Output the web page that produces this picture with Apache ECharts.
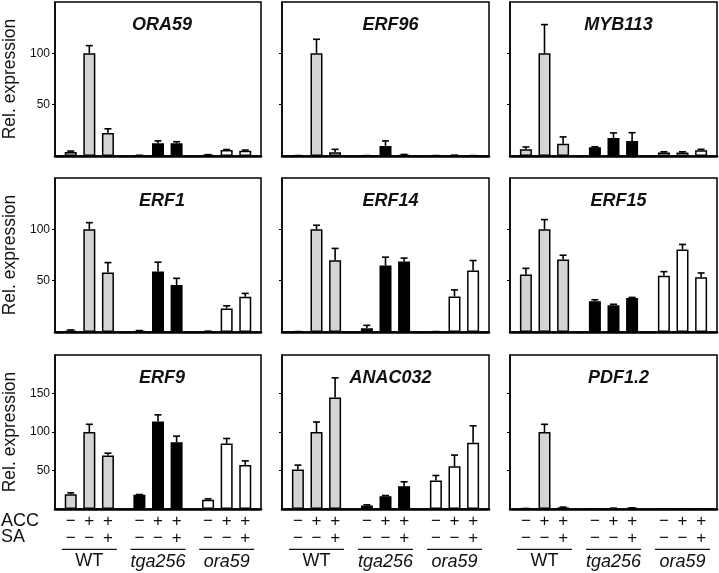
<!DOCTYPE html>
<html>
<head>
<meta charset="utf-8">
<script src="https://cdn.jsdelivr.net/npm/echarts@6/dist/echarts.min.js"></script>
<style>html,body{margin:0;padding:0;background:#fff}#c{width:719px;height:573px}</style>
</head>
<body>
<div id="c"></div>
<script>
// ---- data ----
var genes = ['ORA59', 'ERF96', 'MYB113', 'ERF1', 'ERF14', 'ERF15', 'ERF9', 'ANAC032', 'PDF1.2'];
var groups = ['WT', 'tga256', 'ora59'];
var accSigns = ['\u2212', '+', '+'];
var saSigns = ['\u2212', '\u2212', '+'];
var rowMax = [150, 150, 200];
var rowTicks = [[50, 100], [50, 100], [50, 100, 150]];
// means per gene: WT(-,-), WT(+,-), WT(+,+), tga256 x3, ora59 x3
var meanORA59   = [4, 100, 22.5, 0.5, 12.4, 12.4, 1, 5.8, 5];
var errORA59    = [0.8, 7.5, 4, 0.2, 2.3, 1.5, 0.3, 0.5, 0.8];
var meanERF96   = [0.3, 100, 3.6, 0.3, 9.8, 1, 0.3, 0.6, 0.3];
var errERF96    = [0.1, 13.7, 2.9, 0.1, 4.9, 0.5, 0.1, 0.2, 0.1];
var meanMYB113  = [6.5, 100, 12, 8.5, 17.6, 14.7, 3.3, 3.3, 5.5];
var errMYB113   = [2.3, 28, 6.6, 0.5, 4.9, 8, 0.8, 0.8, 1];
var meanERF1    = [1.3, 100, 58, 1, 59, 45.8, 0.5, 23, 34.3];
var errERF1     = [0.7, 6.5, 9.6, 0.4, 9, 6.5, 0.3, 2.5, 3.3];
var meanERF14   = [0.3, 100, 70, 3.6, 64.7, 68.6, 0.3, 34.6, 60];
var errERF14    = [0.1, 4, 11.4, 2.9, 8.2, 3.4, 0.1, 6.4, 9.6];
var meanERF15   = [55.9, 100, 70.6, 30, 26, 33, 54.9, 80.4, 53.3];
var errERF15    = [6.1, 9.5, 4.2, 1.4, 1, 0.7, 3.9, 4.9, 4.2];
var meanERF9    = [19.3, 100, 69.5, 18.4, 113.6, 86.8, 11.9, 85, 57];
var errERF9     = [1.7, 10, 3, 0.4, 8.7, 7.8, 1.3, 6.6, 5.5];
var meanANAC032 = [51.3, 100, 144.8, 4.5, 16.7, 29.7, 37, 55.6, 86];
var errANAC032  = [5.7, 13, 25.5, 0.9, 0.8, 5.6, 6.5, 14.4, 22];
var meanPDF12   = [0.5, 100, 2, 0.2, 0.8, 1.2, 0, 0, 0];
var errPDF12    = [0.2, 10, 0.5, 0.1, 0.3, 0.3, 0, 0, 0];

var means = [meanORA59, meanERF96, meanMYB113, meanERF1, meanERF14, meanERF15, meanERF9, meanANAC032, meanPDF12];
var errs  = [errORA59, errERF96, errMYB113, errERF1, errERF14, errERF15, errERF9, errANAC032, errPDF12];

// ---- layout / style ----
var FONT = 'Liberation Sans, Arial, sans-serif';
var colLeft = [53, 282, 510], colWidth = [208, 207, 207];
var rowTop = [2, 178, 355], rowHeight = 154;
var groupColors = ['#d4d4d4', '#000000', '#ffffff'];
var BAR_W = 12, BAR_STEP = 18.6;

var chart = echarts.init(document.getElementById('c'), null, {renderer: 'canvas'});
var grids = [], xAxes = [], yAxes = [], titles = [], series = [];

for (var k = 0; k < 9; k++) {
  var r = Math.floor(k / 3), c = k % 3;
  grids.push({left: colLeft[c], top: rowTop[r], width: colWidth[c], height: rowHeight,
    show: true, borderColor: '#000', borderWidth: 1.5, backgroundColor: 'transparent'});
  xAxes.push({type: 'category', gridIndex: k, data: groups,
    axisLine: {lineStyle: {color: '#000', width: 2.5}}, axisTick: {show: false}, axisLabel: {show: false}});
  yAxes.push({type: 'value', gridIndex: k, min: 0, max: rowMax[r], interval: 50,
    splitLine: {show: false},
    axisLine: {show: true, lineStyle: {color: '#000', width: 1.5}},
    axisTick: {show: true, length: 3, inside: false, customValues: rowTicks[r], lineStyle: {color: '#000', width: 1}},
    axisLabel: {show: c === 0, customValues: rowTicks[r], fontSize: 12, color: '#111', fontFamily: FONT, margin: 5},
    name: c === 0 ? 'Rel. expression' : '', nameLocation: 'middle', nameGap: 36,
    nameTextStyle: {fontSize: 17.5, color: '#111', fontFamily: FONT}});
  titles.push({text: genes[k], left: colLeft[c] + colWidth[c] / 2, top: rowTop[r] + 9, textAlign: 'center',
    textStyle: {fontSize: 18, fontWeight: 'bold', fontStyle: 'italic', color: '#111', fontFamily: FONT}});
  for (var cond = 0; cond < 3; cond++) {
    var d = [];
    for (var g = 0; g < 3; g++) {
      d.push({value: means[k][g * 3 + cond], itemStyle: {color: groupColors[g]}});
    }
    series.push({type: 'bar', xAxisIndex: k, yAxisIndex: k, data: d, barWidth: BAR_W, barGap: '55%',
      itemStyle: {borderColor: '#000', borderWidth: 1.5}, silent: true, animation: false});
  }
  var ed = [];
  for (var g2 = 0; g2 < 3; g2++) for (var c2 = 0; c2 < 3; c2++) {
    ed.push([g2, means[k][g2 * 3 + c2], errs[k][g2 * 3 + c2], c2]);
  }
  series.push({type: 'custom', xAxisIndex: k, yAxisIndex: k, data: ed, z: 5, silent: true, animation: false,
    encode: {x: 0, y: 1},
    renderItem: function (params, api) {
      var gi = api.value(0), m = api.value(1), e = api.value(2), ci = api.value(3);
      if (!(e > 0)) return null;
      var p0 = api.coord([gi, m]), p1 = api.coord([gi, m + e]);
      var x = p0[0] + (ci - 1) * BAR_STEP;
      var st = {stroke: '#000', lineWidth: 1.6};
      return {type: 'group', children: [
        {type: 'line', shape: {x1: x, y1: p0[1], x2: x, y2: p1[1]}, style: st},
        {type: 'line', shape: {x1: x - 3.5, y1: p1[1], x2: x + 3.5, y2: p1[1]}, style: st}
      ]};
    }});
}

chart.setOption({
  animation: false,
  backgroundColor: '#fff',
  title: titles, grid: grids, xAxis: xAxes, yAxis: yAxes, series: series
});

// ---- bottom condition labels ----
var gr = [];
var txt = function (s, x, y, size, italic, align) {
  return {type: 'text', x: x, y: y, silent: true,
    style: {text: s, fontSize: size, fontFamily: FONT, fontStyle: italic ? 'italic' : 'normal',
      fill: '#111', align: align || 'center', verticalAlign: 'middle'}};
};
gr.push(txt('ACC', 1, 521, 18, false, 'left'));
gr.push(txt('SA', 1, 537, 18, false, 'left'));
for (var kk = 6; kk < 9; kk++) {
  for (var gg = 0; gg < 3; gg++) {
    var cx = chart.convertToPixel({gridIndex: kk}, [gg, 0])[0];
    for (var cc = 0; cc < 3; cc++) {
      var sx = cx + (cc - 1) * BAR_STEP;
      gr.push(txt(accSigns[cc], sx, 521, 17, false));
      gr.push(txt(saSigns[cc], sx, 538.5, 17, false));
    }
    gr.push({type: 'line', silent: true, shape: {x1: cx - 27.5, y1: 549.3, x2: cx + 27.5, y2: 549.3},
      style: {stroke: '#111', lineWidth: 1.2}});
    gr.push(txt(groups[gg], cx, 561.5, 18, gg > 0));
  }
}
chart.setOption({graphic: gr});
</script>
</body>
</html>
